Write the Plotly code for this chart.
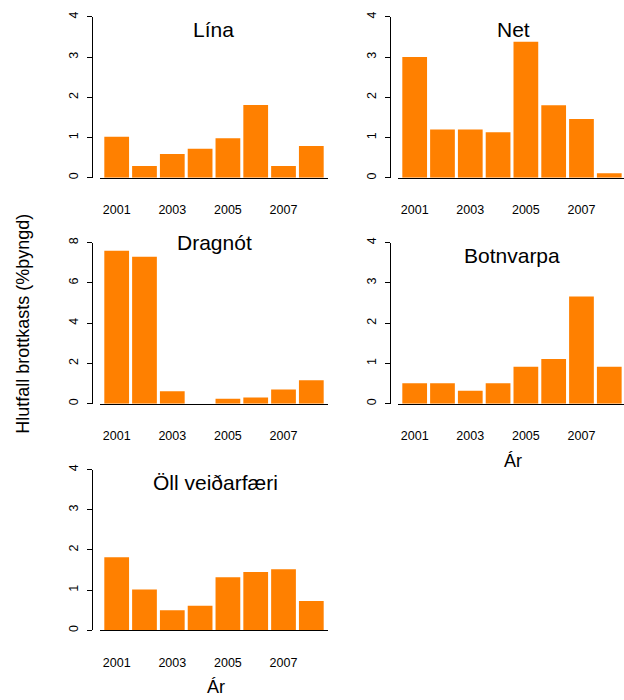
import plotly.graph_objects as go

years = [2001, 2002, 2003, 2004, 2005, 2006, 2007, 2008]
tick_years = [2001, 2003, 2005, 2007]

lina = [1.02, 0.29, 0.59, 0.72, 0.98, 1.81, 0.29, 0.79]
net = [3.00, 1.20, 1.20, 1.13, 3.38, 1.80, 1.46, 0.11]
dragnot = [7.59, 7.30, 0.62, 0.0, 0.25, 0.31, 0.70, 1.16]
botnvarpa = [0.51, 0.51, 0.32, 0.51, 0.92, 1.11, 2.66, 0.92]
oll = [1.82, 1.02, 0.50, 0.61, 1.32, 1.45, 1.52, 0.73]

titles = ["Lína", "Net", "Dragnót", "Botnvarpa", "Öll veiðarfæri"]
series = [lina, net, dragnot, botnvarpa, oll]
ymax = [4, 4, 8, 4, 4]
ytickvals = [[0, 1, 2, 3, 4], [0, 1, 2, 3, 4], [0, 2, 4, 6, 8], [0, 1, 2, 3, 4], [0, 1, 2, 3, 4]]

W, H = 624, 700
FONT = "Liberation Sans, Arial, sans-serif"
BAR = "#FF8000"


def fx(px):
    return px / W


def fy(py):
    return 1 - py / H


# panel geometry in pixels: (yaxis x, x-domain left, x-domain right, y top, y bottom, xrange right)
panels = [
    (91.7, 100, 328, 12, 174.5, 2008.6),
    (390.0, 398, 624, 12, 174.5, 2008.53),
    (91.7, 100, 328, 240, 402.7, 2008.6),
    (390.0, 398, 624, 240, 402.7, 2008.53),
    (91.7, 100, 328, 469.3, 631.7, 2008.6),
]
title_pos = [(213, 25), (513, 25), (214.5, 240), (512, 253), (215, 482)]

fig = go.Figure()
layout = dict(
    width=W, height=H, margin=dict(l=0, r=0, t=0, b=0),
    paper_bgcolor="white", plot_bgcolor="white",
    showlegend=False, bargap=0.11,
    font=dict(family=FONT, color="black"),
)
annotations = []

for i, (vals, ttl) in enumerate(zip(series, titles)):
    n = "" if i == 0 else str(i + 1)
    yax_x, xl, xr, yt, yb, xrr = panels[i]
    fig.add_trace(go.Bar(
        x=years, y=vals, xaxis="x" + n, yaxis="y" + n,
        marker=dict(color=BAR, line=dict(width=0)), width=0.89,
    ))
    layout["xaxis" + n] = dict(
        domain=[fx(xl), fx(xr)], range=[2000.4, xrr], anchor="y" + n,
        showline=True, linecolor="black", linewidth=1.3,
        tickvals=tick_years, ticktext=[str(t) for t in tick_years],
        ticks="", ticklabelstandoff=20,
        tickfont=dict(size=12.5, family=FONT, color="black"),
        showgrid=False, zeroline=False, fixedrange=True,
    )
    layout["yaxis" + n] = dict(
        domain=[fy(yb), fy(yt)], range=[0, ymax[i]], anchor="free",
        position=fx(yax_x),
        showline=True, linecolor="black", linewidth=1.3,
        tickvals=ytickvals[i], ticks="outside", ticklen=5, tickwidth=1.3,
        tickcolor="black", tickangle=-90, ticklabelstandoff=4,
        tickfont=dict(size=12.5, family=FONT, color="black"),
        showgrid=False, zeroline=False, fixedrange=True,
    )
    tx, ty = title_pos[i]
    annotations.append(dict(
        text=ttl, x=fx(tx), y=fy(ty), xref="paper", yref="paper",
        xanchor="center", yanchor="middle", showarrow=False,
        font=dict(size=21, family=FONT, color="black"),
    ))

annotations.append(dict(
    text="Ár", x=fx(512.5), y=fy(461), xref="paper", yref="paper",
    xanchor="center", yanchor="middle", showarrow=False,
    font=dict(size=18, family=FONT, color="black"),
))
annotations.append(dict(
    text="Ár", x=fx(216), y=fy(689), xref="paper", yref="paper",
    xanchor="center", yanchor="middle", showarrow=False,
    font=dict(size=18, family=FONT, color="black"),
))
annotations.append(dict(
    text="Hlutfall brottkasts (%þyngd)", x=fx(23), y=fy(322),
    xref="paper", yref="paper", xanchor="center", yanchor="middle",
    textangle=-90, showarrow=False,
    font=dict(size=18, family=FONT, color="black"),
))
layout["annotations"] = annotations
fig.update_layout(**layout)
fig.write_html("out.html")
